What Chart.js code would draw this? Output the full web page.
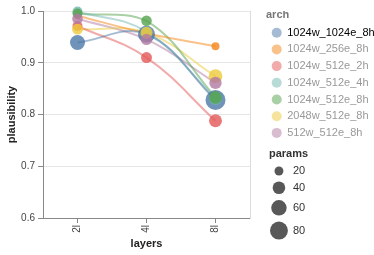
<!DOCTYPE html>
<html>
<head>
<meta charset="utf-8">
<script src="https://cdn.jsdelivr.net/npm/chart.js@4.4.0/dist/chart.umd.min.js"></script>
<style>
  html, body { margin: 0; padding: 0; background: #fff; }
</style>
</head>
<body>
<canvas id="chart" width="374" height="255"></canvas>
<script>
const layers = ['2l', '4l', '8l']
const archs = ['1024w_1024e_8h', '1024w_256e_8h', '1024w_512e_2h', '1024w_512e_4h', '1024w_512e_8h', '2048w_512e_8h', '512w_512e_8h']
const colors = ['#4c78a8', '#f58518', '#e45756', '#72b7b2', '#54a24b', '#eeca3b', '#b279a2']

// plausibility per arch, one value per layer count
const plausibility = [
    [0.939, 0.955, 0.828],
    [0.991, 0.957, 0.932],
    [0.971, 0.910, 0.788],
    [0.999, 0.960, 0.831],
    [0.995, 0.981, 0.833],
    [0.965, 0.958, 0.874],
    [0.985, 0.945, 0.861],
]
// params (millions?)
const params = [
    [56, 72, 100],
    [12, 14, 16],
    [25, 30, 42],
    [25, 28, 40],
    [25, 28, 40],
    [30, 36, 47],
    [28, 32, 38],
]
const paramTicks = [20, 40, 60, 80]

Chart.defaults.font.family = '"Liberation Sans", Arial, sans-serif'

function alpha(hex, a) {
    let n = parseInt(hex.slice(1), 16)
    return `rgba(${n >> 16},${(n >> 8) & 255},${n & 255},${a})`
}

// marker area grows with params
function radius(v) {
    return Math.sqrt(v)
}

let datasets = []
// lines go under all the points
archs.forEach((name, i) => {
    datasets.push({
        label: name,
        data: plausibility[i],
        borderColor: alpha(colors[i], 0.5),
        borderWidth: 2,
        pointRadius: 0,
        tension: 0.4,
        clip: false,
        order: 100,
    })
})
archs.forEach((name, i) => {
    datasets.push({
        label: name,
        data: plausibility[i],
        showLine: false,
        pointRadius: params[i].map(radius),
        pointHoverRadius: params[i].map(radius),
        pointBackgroundColor: alpha(colors[i], 0.8),
        pointBorderWidth: 0,
        clip: false,
        order: 50 - i,
    })
})

// size legend for params, drawn under the arch legend
const paramsLegend = {
    id: 'paramsLegend',
    afterDraw(chart) {
        let ctx = chart.ctx
        let left = chart.legend.left + 3
        let maxR = radius(paramTicks[paramTicks.length - 1])
        ctx.save()
        ctx.textBaseline = 'middle'
        ctx.font = 'bold 11px "Liberation Sans", Arial, sans-serif'
        ctx.fillStyle = '#333'
        ctx.fillText('params', left, 154)
        ctx.font = '11px "Liberation Sans", Arial, sans-serif'
        let y = 171
        paramTicks.forEach((v, i) => {
            let r = radius(v)
            if (i > 0) y += radius(paramTicks[i - 1]) + r + 6
            ctx.fillStyle = 'rgba(70,70,70,0.9)'
            ctx.beginPath()
            ctx.arc(left + maxR + 1, y, r, 0, Math.PI * 2)
            ctx.fill()
            ctx.fillStyle = '#333'
            ctx.fillText(String(v), left + 2 * maxR + 6, y)
        })
        ctx.restore()
    }
}

new Chart(document.getElementById('chart'), {
    type: 'line',
    data: { labels: layers, datasets: datasets },
    plugins: [paramsLegend],
    options: {
        responsive: false,
        animation: false,
        layout: { padding: { top: 11, left: 0, right: 0, bottom: 0 } },
        scales: {
            x: {
                type: 'category',
                offset: true,
                grid: { offset: false, color: 'rgba(0,0,0,0)', tickColor: '#888', tickLength: 5 },
                border: { color: '#888' },
                ticks: { minRotation: 90, maxRotation: 90, padding: 2, color: '#444', font: { size: 10 } },
                title: {
                    display: true, text: 'layers', color: '#222',
                    font: { size: 11, weight: 'bold' }, padding: { top: 0, bottom: 4.4 }
                },
                afterFit: s => { s.height = 37 },
            },
            y: {
                min: 0.6,
                max: 1.0,
                grid: { color: '#e6e6e6', tickColor: '#888', tickLength: 5 },
                border: { color: '#888' },
                ticks: { stepSize: 0.1, padding: 3, color: '#444', font: { size: 10 }, callback: v => v.toFixed(1) },
                title: {
                    display: true, text: 'plausibility', color: '#222',
                    font: { size: 11, weight: 'bold' }, padding: { top: 5.4, bottom: 0 }
                },
                afterFit: s => { s.width = 43 },
            },
            // empty axis: keeps a gap before the legend and draws the right frame
            y2: {
                position: 'right',
                display: true,
                grid: { display: false },
                ticks: { display: false },
                border: { color: '#ddd' },
                afterFit: s => { s.width = 16 },
            },
        },
        plugins: {
            tooltip: { enabled: false },
            legend: {
                position: 'right',
                align: 'start',
                maxWidth: 108,
                onClick: null,
                title: {
                    display: true, text: 'arch', color: '#777', position: 'start',
                    font: { size: 11, weight: 'bold' }, padding: { top: -1.5, bottom: -1.2 }
                },
                labels: {
                    usePointStyle: true,
                    boxWidth: 10,
                    boxHeight: 7.07,
                    padding: 5.7,
                    font: { size: 11 },
                    generateLabels: () => archs.map((name, i) => ({
                        text: name,
                        fillStyle: alpha(colors[i], 0.5),
                        strokeStyle: 'rgba(0,0,0,0)',
                        lineWidth: 0,
                        pointStyle: 'circle',
                        fontColor: i === 0 ? '#000' : '#999',
                        datasetIndex: i,
                        hidden: false,
                    })),
                },
            },
        },
    },
})
</script>
</body>
</html>
